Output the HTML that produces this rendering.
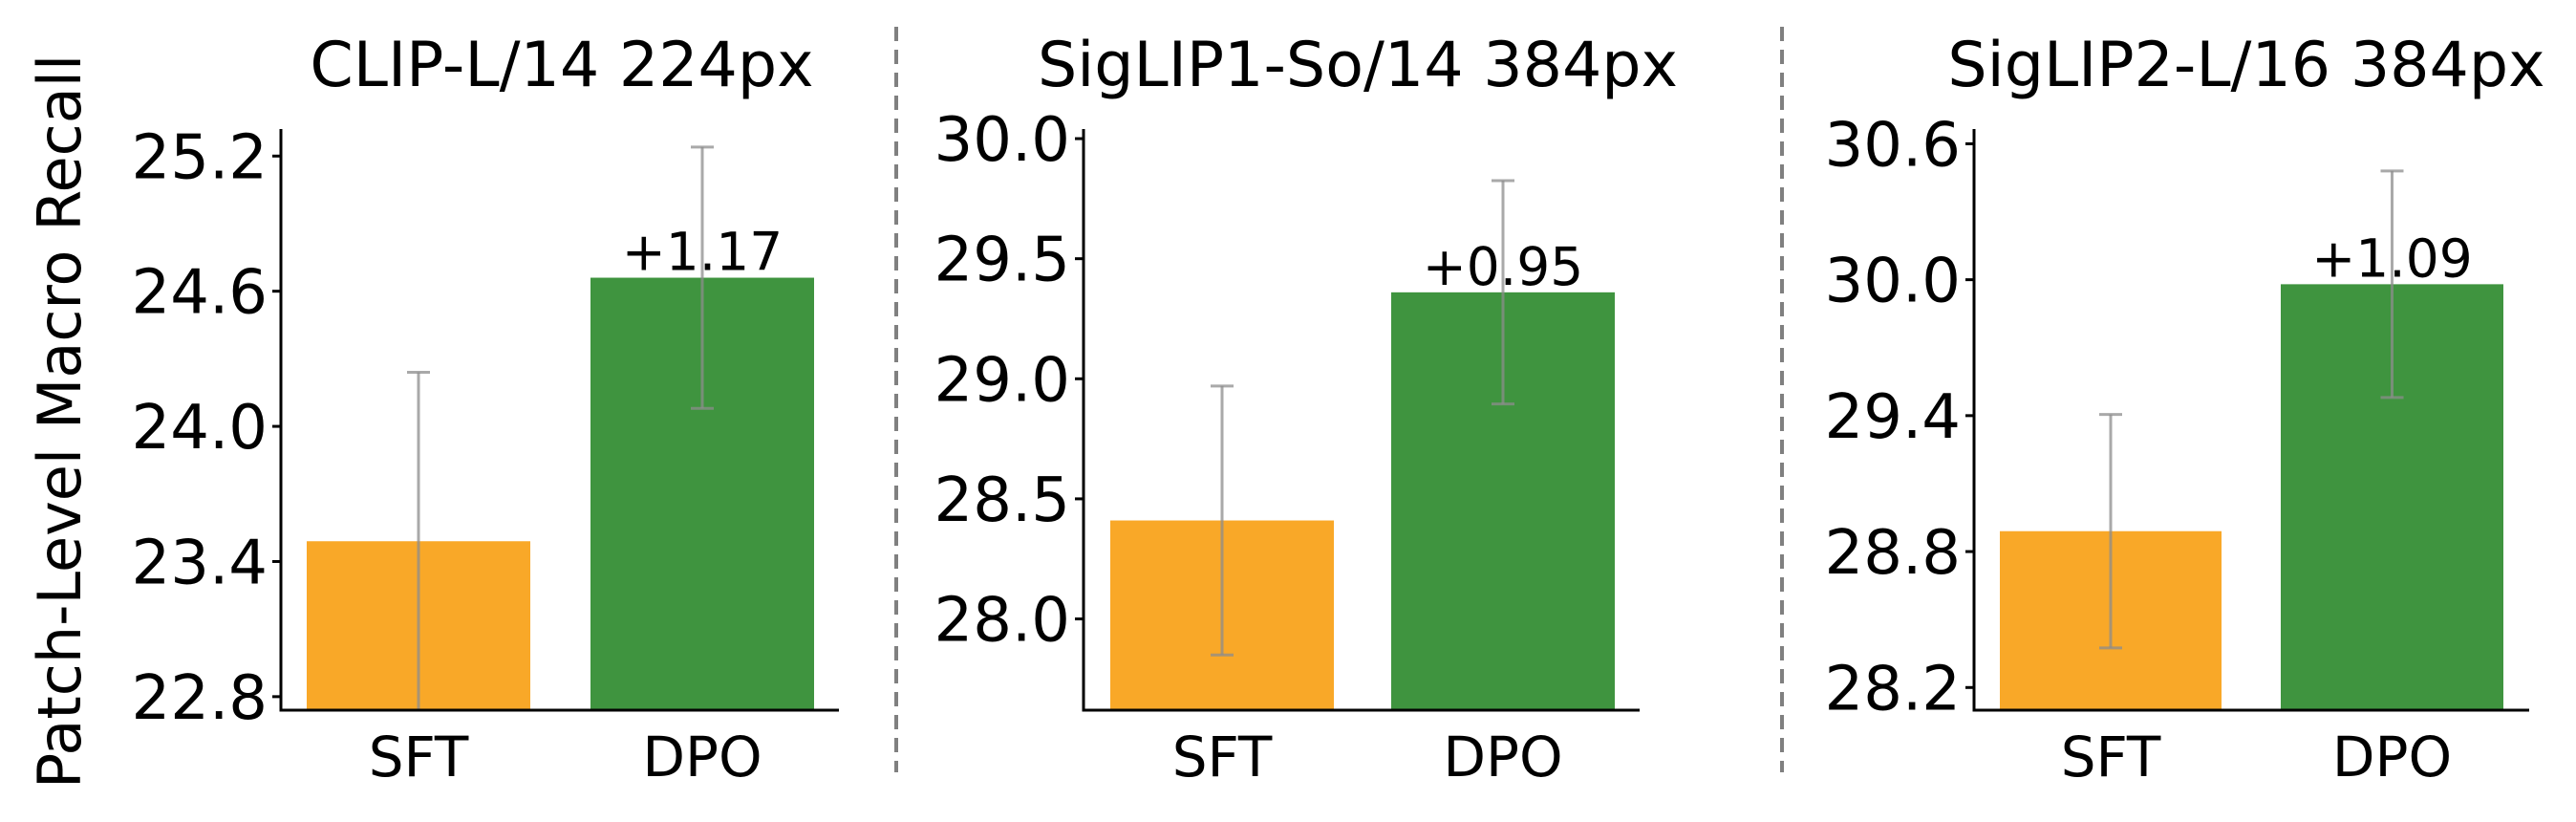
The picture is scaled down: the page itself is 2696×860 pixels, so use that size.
<!DOCTYPE html>
<html><head><meta charset="utf-8">
<style>
html,body{margin:0;padding:0;background:#fff;}
svg{display:block;font-family:"DejaVu Sans","Liberation Sans",sans-serif;}
</style></head>
<body>
<svg id="chart" width="2696" height="860" viewBox="0 0 2696 860" xmlns="http://www.w3.org/2000/svg">
<text x="0" y="0" transform="translate(84,441) rotate(-90)" font-size="62" text-anchor="middle">Patch-Level Macro Recall</text>
<line x1="938" y1="28" x2="938" y2="808" stroke="#808080" stroke-width="4" stroke-dasharray="15,9"/>
<line x1="1865" y1="28" x2="1865" y2="808" stroke="#808080" stroke-width="4" stroke-dasharray="15,9"/>
</svg>
<script>
const categories = ["SFT", "DPO"];
const panelTitles = ["CLIP-L/14 224px", "SigLIP1-So/14 384px", "SigLIP2-L/16 384px"];
const sftValues = [23.49, 28.41, 28.89];
const dpoValues = [24.66, 29.36, 29.98];
const sftErrors = [0.75, 0.56, 0.515];
const dpoErrors = [0.58, 0.465, 0.50];
const deltaLabels = ["+1.17", "+0.95", "+1.09"];
const tickLabels1 = ["22.8", "23.4", "24.0", "24.6", "25.2"];
const tickLabels2 = ["28.0", "28.5", "29.0", "29.5", "30.0"];
const tickLabels3 = ["28.2", "28.8", "29.4", "30.0", "30.6"];
const yMins = [22.74, 27.62, 28.10];
const yMaxs = [25.32, 30.04, 30.665];

const layouts = [
  {x0:294, x1:878, bars:[[321,555],[618,852]], tx:588},
  {x0:1134, x1:1716, bars:[[1162,1396],[1456,1690]], tx:1421},
  {x0:2066, x1:2647, bars:[[2093,2325],[2387,2620]], tx:2351}
];
const ticksAll = [tickLabels1, tickLabels2, tickLabels3];
const yTop = 135, yBot = 743;
const NS = "http://www.w3.org/2000/svg";
const svg = document.getElementById('chart');
function mk(tag, attrs, parent){
  const e = document.createElementNS(NS, tag);
  for (const k in attrs) e.setAttribute(k, attrs[k]);
  (parent||svg).appendChild(e);
  return e;
}
const colors = ["#F9A828", "#3F943F"];
for (let p = 0; p < 3; p++) {
  const L = layouts[p];
  const g = mk('g', {});
  
  
  const yS = v => yBot - (v - yMins[p]) / (yMaxs[p] - yMins[p]) * (yBot - yTop);
  const title = mk('text', {x:L.tx, y:90, 'font-size':65, 'text-anchor':'middle'}, g);
  title.textContent = panelTitles[p];
  
  
  const vals = [sftValues[p], dpoValues[p]];
  const errs = [sftErrors[p], dpoErrors[p]];
  for (let i = 0; i < 2; i++) {
    const [bx0, bx1] = L.bars[i];
    const top = yS(vals[i]);
    const r = mk('rect', {x:bx0, y:top, width:bx1-bx0, height:yBot-top, fill:colors[i]}, g);
    
    
    const cx = (bx0+bx1)/2;
    const eTop = yS(vals[i]+errs[i]);
    const eBotRaw = yS(vals[i]-errs[i]);
    const eBot = Math.min(eBotRaw, yBot);
    const eg = mk('g', {stroke:'#8c8c8c', 'stroke-opacity':0.75, 'stroke-width':3}, g);
    
    
    mk('line', {x1:cx, y1:eTop, x2:cx, y2:eBot}, eg);
    mk('line', {x1:cx-12, y1:eTop, x2:cx+12, y2:eTop}, eg);
    if (eBotRaw <= yBot) mk('line', {x1:cx-12, y1:eBotRaw, x2:cx+12, y2:eBotRaw}, eg);
    const xl = mk('text', {x:cx, y:812, 'font-size':58, 'text-anchor':'middle'}, g);
    xl.textContent = categories[i];
    
    
    if (i === 1) {
      const dl = mk('text', {x:cx, y:top-8, 'font-size':55, 'text-anchor':'middle'}, g);
      dl.textContent = deltaLabels[p];
      
      
    }
  }
  ticksAll[p].forEach(t => {
    const y = yS(parseFloat(t));
    mk('line', {x1:L.x0-9, y1:y, x2:L.x0, y2:y, stroke:'#000', 'stroke-width':3}, g);
    const tl = mk('text', {x:L.x0-14, y:y+23, 'font-size':64, 'text-anchor':'end'}, g);
    tl.textContent = t;
    
    
  });
  const ya = mk('line', {x1:L.x0, y1:yTop, x2:L.x0, y2:yBot+1.5, stroke:'#000', 'stroke-width':3}, g);
  
  
  const xa = mk('line', {x1:L.x0-1.5, y1:yBot, x2:L.x1, y2:yBot, stroke:'#000', 'stroke-width':3}, g);
  
  
}
</script>
</body></html>
